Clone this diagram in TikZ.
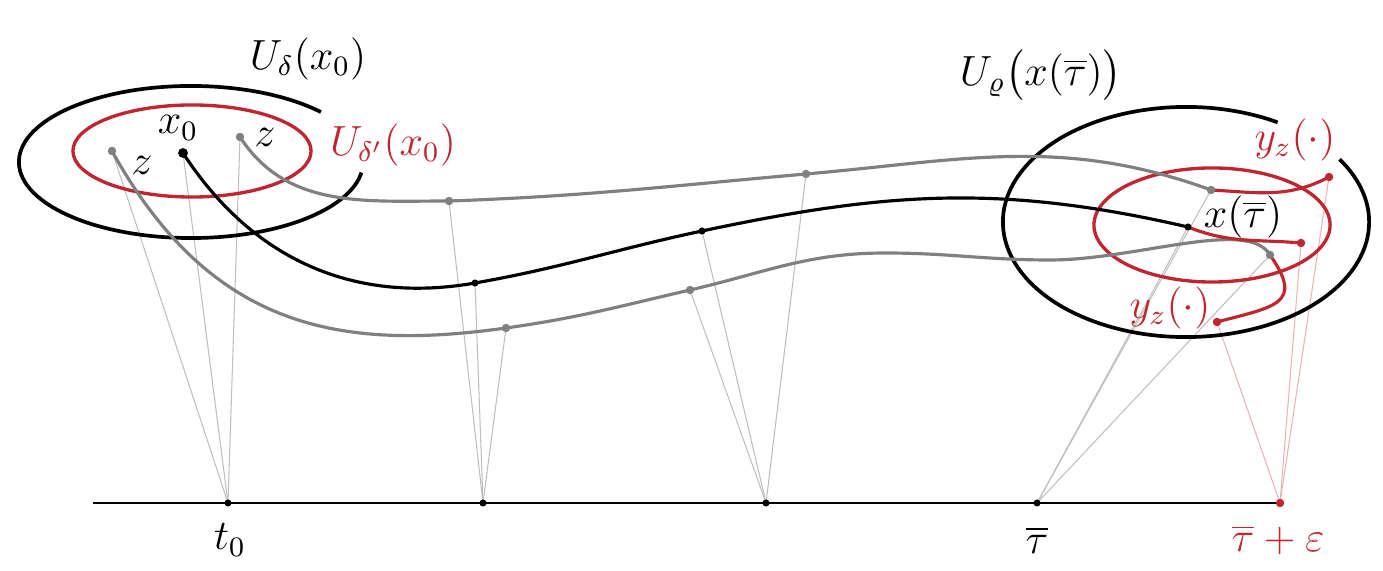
\documentclass[tikz,border=0pt]{standalone}
\usepackage{amsmath}
\definecolor{nbred}{RGB}{192,38,48}
\begin{document}
\begin{tikzpicture}[x=0.01cm,y=0.01cm,
    traj/.style={line width=0.9pt,gray},
    maintraj/.style={line width=0.9pt,black},
    perturb/.style={line width=0.9pt,nbred},
    ring/.style={line width=1.05pt,black},
    redring/.style={line width=0.95pt,nbred},
    fine/.style={line width=0.3pt,black!25},
    finered/.style={line width=0.3pt,nbred!35},
    lab/.style={font=\large}
  ]
  \useasboundingbox (0,0) rectangle (1383,570);

  % time axis
  \coordinate (start) at (93,67);
  \coordinate (t0) at (228,67);
  \coordinate (a1) at (483,67);
  \coordinate (a2) at (766,67);
  \coordinate (tb) at (1037,67);
  \coordinate (te) at (1280,67);

  % points on the trajectories
  \coordinate (zl) at (112,419);
  \coordinate (x0) at (183,417);
  \coordinate (zr) at (240,433);
  \coordinate (g1) at (449,369);
  \coordinate (b1) at (475,287);
  \coordinate (h1) at (506,242);
  \coordinate (g2) at (806,396);
  \coordinate (b2) at (702,339);
  \coordinate (h2) at (690,280);
  \coordinate (pk) at (885,317);
  \coordinate (dp) at (1050,310);
  \coordinate (gz1) at (1211,380);
  \coordinate (xt) at (1188,343);
  \coordinate (gz2) at (1270,315);
  \coordinate (r1) at (1329,393);
  \coordinate (r2) at (1301,327);
  \coordinate (r3) at (1217,248);

  % centres of the neighbourhoods
  \coordinate (lc) at (191,408);
  \coordinate (lrc) at (192,419);
  \coordinate (rc) at (1186,348);
  \coordinate (rrc) at (1212,345);

  \foreach \a/\p in {t0/zl,t0/x0,t0/zr,a1/g1,a1/b1,a1/h1,a2/g2,a2/b2,a2/h2,tb/gz1,tb/xt,tb/gz2}
    \draw[fine] (\a) -- (\p);
  \foreach \p in {r1,r2,r3}
    \draw[finered] (te) -- (\p);

  \draw[line width=0.6pt] (start) -- (te);

  \draw[redring] (lrc) ellipse [x radius=1.19cm, y radius=0.46cm];
  \draw[ring] ([shift={(41:1.72cm and 0.76cm)}]lc) arc[start angle=41, end angle=352, x radius=1.72cm, y radius=0.76cm];
  \draw[redring] (rrc) ellipse [x radius=1.18cm, y radius=0.57cm];
  \draw[ring] ([shift={(60:1.83cm and 1.15cm)}]rc) arc[start angle=60, end angle=393, x radius=1.83cm, y radius=1.15cm];

  \draw[traj] (zr) to[out=-57,in=180] (g1) to[out=2,in=185] (g2) to[out=5,in=160] (gz1);
  \draw[maintraj] (x0) to[out=-57,in=190] (b1) to[out=10,in=192] (b2) to[out=12,in=167] (xt);
  \draw[traj] (zl) to[out=-61,in=188,out looseness=1.2] (h1) to[out=8,in=193] (h2)
    to[out=13,in=180] (pk) to[out=0,in=180] (dp) to[out=0,in=120,in looseness=0.5] (gz2);

  \draw[perturb] (gz1) to[out=-3,in=208] (r1);
  \draw[perturb] (xt) to[out=-22,in=175] (r2);
  \draw[perturb] (gz2) to[out=-55,in=15,looseness=1.8] (r3);

  \foreach \p in {zl,zr,g1,g2,h1,h2,gz1,gz2}
    \fill[gray] (\p) circle (1.2pt);
  \foreach \p in {b1,b2,xt,t0,a1,a2,tb}
    \fill (\p) circle (1pt);
  \fill (x0) circle (1.4pt);
  \foreach \p in {r1,r2,r3,te}
    \fill[nbred] (\p) circle (1.2pt);

  \node[lab] (Ud) at (308,511) {$U_\delta(x_0)$};
  \node[lab,nbred] (Udp) at (393,425) {$U_{\delta'}(x_0)$};
  \node[lab] (lx0) at (178,442) {$x_0$};
  \node[lab] (lzl) at (142,405) {$z$};
  \node[lab] (lzr) at (265,433) {$z$};
  \node[lab] (Ur) at (1041,495) {$U_\varrho\bigl(x(\overline{\tau})\bigr)$};
  \node[lab,nbred] (yz1) at (1295,430) {$y_z(\cdot)$};
  \node[lab] (lxt) at (1243,353) {$x(\overline{\tau})$};
  \node[lab,nbred] (yz2) at (1170,262) {$y_z(\cdot)$};
  \node[lab] (lt0) at (230,30) {$t_0$};
  \node[lab] (ltb) at (1037,30) {$\overline{\tau}$};
  \node[lab,nbred] (lte) at (1278,30) {$\overline{\tau}+\varepsilon$};
\end{tikzpicture}
\end{document}
